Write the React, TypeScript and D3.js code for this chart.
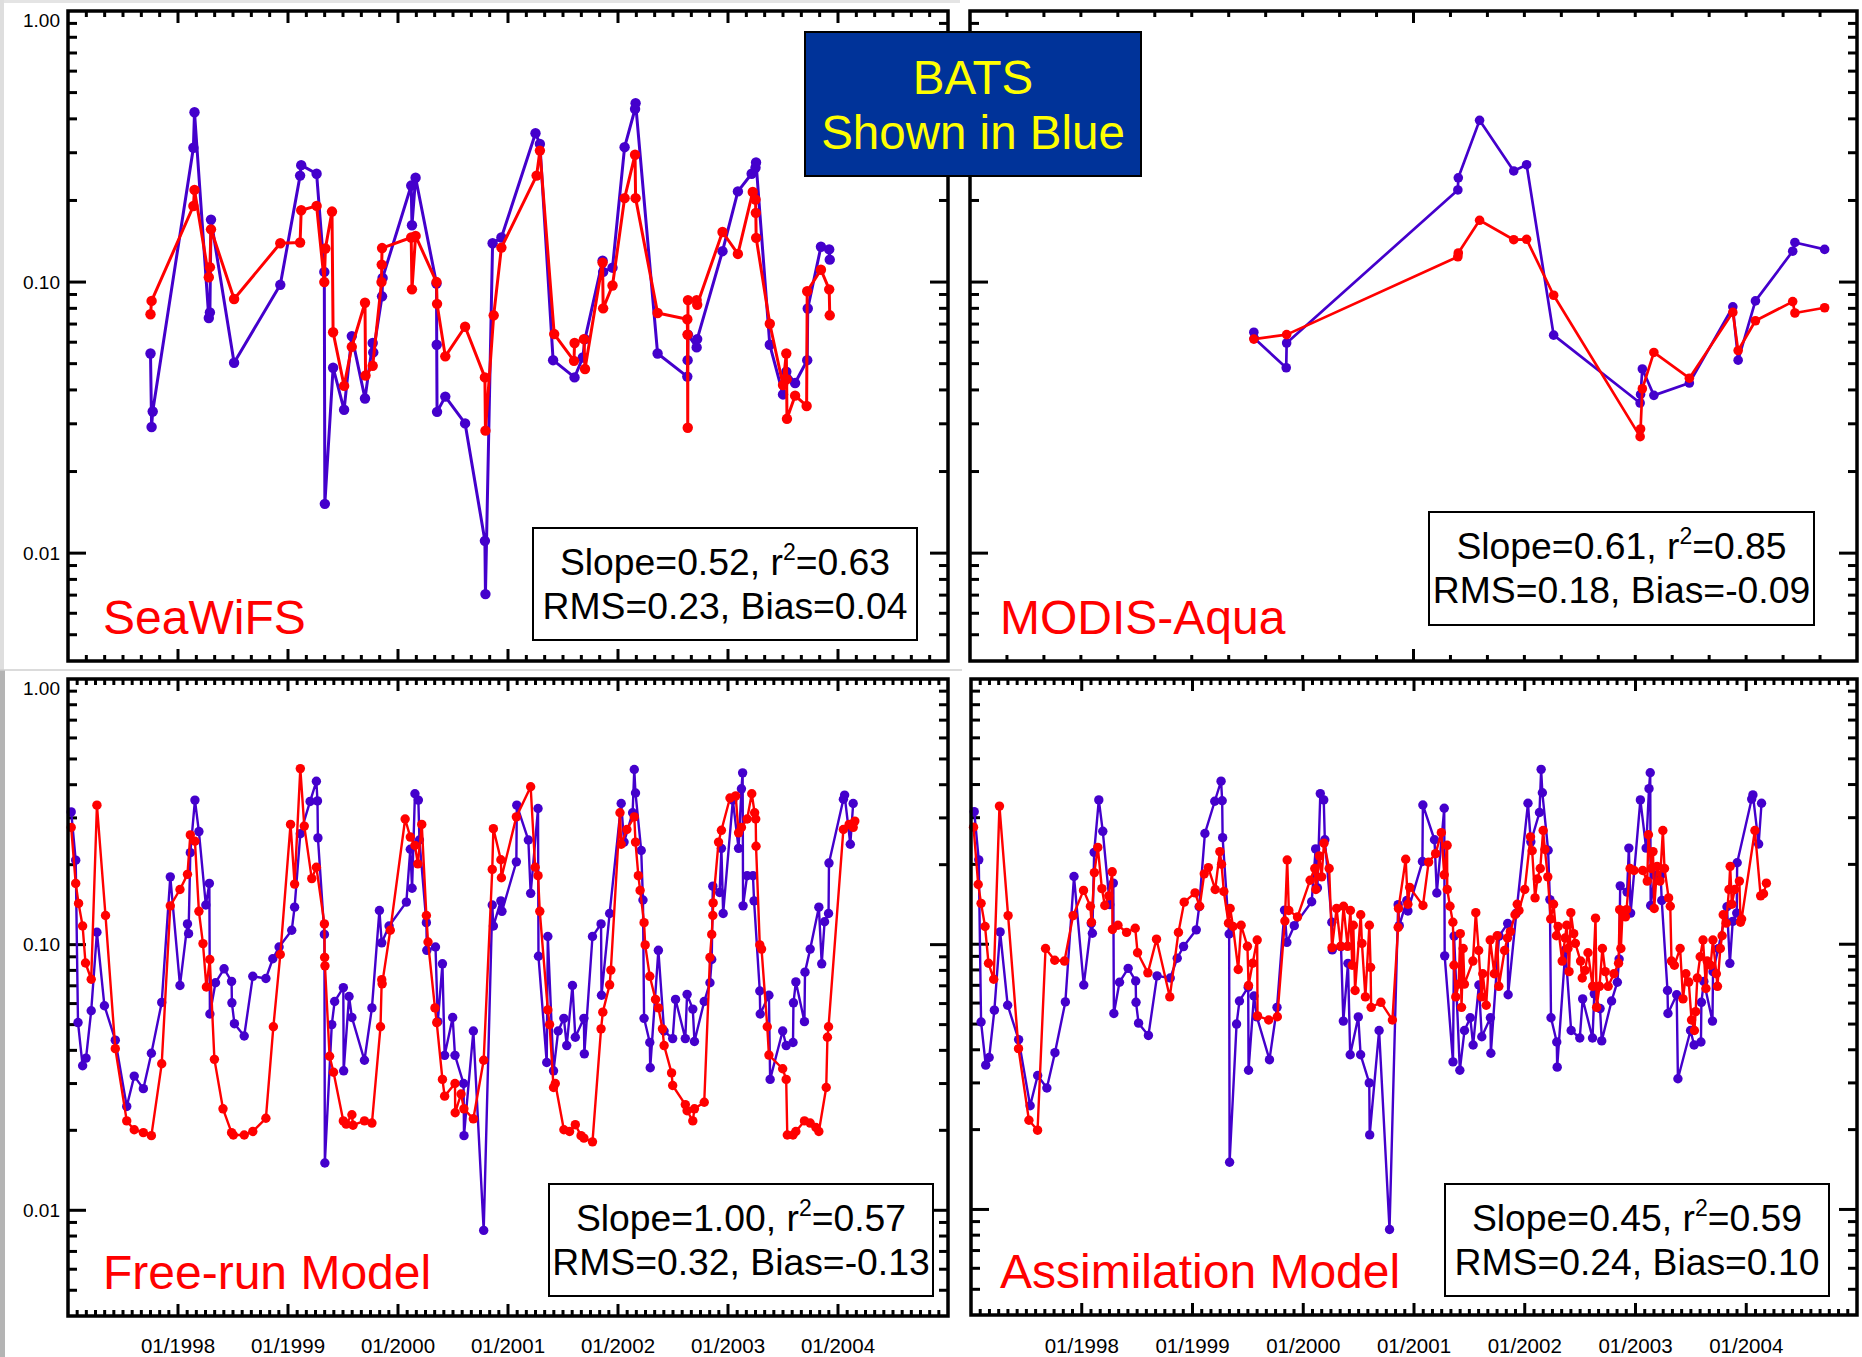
import * as d3 from 'd3'

type Pt = [number, number] // [decimal year, chlorophyll]

const BLUE = '#4400cc'
const RED = '#ff0000'
const FONT = 'Liberation Sans, Arial, Helvetica, sans-serif'

// SeaWiFS matchups: BATS (blue) and satellite (red)
const seawifsBats: Pt[] = [
  [1997.75, 0.0545], [1997.76, 0.0292], [1997.77, 0.0333], [1998.14, 0.313], [1998.15, 0.423],
  [1998.28, 0.0737], [1998.29, 0.0773], [1998.30, 0.170], [1998.51, 0.0504], [1998.93, 0.0977],
  [1999.11, 0.247], [1999.12, 0.270], [1999.26, 0.251], [1999.33, 0.109], [1999.335, 0.0152],
  [1999.41, 0.0483], [1999.51, 0.0338], [1999.58, 0.0632], [1999.70, 0.0372], [1999.77, 0.0596],
  [1999.775, 0.0550], [1999.855, 0.0886], [1999.86, 0.1036], [2000.12, 0.227], [2000.127, 0.162],
  [2000.16, 0.2425], [2000.35, 0.0987], [2000.352, 0.0587], [2000.355, 0.0332], [2000.43, 0.0378],
  [2000.61, 0.0301], [2000.79, 0.0111], [2000.795, 0.00706], [2000.86, 0.139], [2000.94, 0.146],
  [2001.25, 0.354], [2001.29, 0.323], [2001.41, 0.0515], [2001.605, 0.0445], [2001.68, 0.0527],
  [2001.70, 0.0616], [2001.86, 0.120], [2001.865, 0.109], [2001.95, 0.113], [2002.06, 0.3145],
  [2002.155, 0.435], [2002.16, 0.457], [2002.36, 0.0545], [2002.63, 0.0448], [2002.633, 0.0515],
  [2002.636, 0.064], [2002.715, 0.0574], [2002.72, 0.0616], [2002.95, 0.130], [2003.09, 0.216],
  [2003.215, 0.251], [2003.25, 0.264], [2003.255, 0.276], [2003.38, 0.0587], [2003.50, 0.0385],
  [2003.53, 0.0467], [2003.61, 0.0424], [2003.72, 0.0515], [2003.725, 0.0799], [2003.845, 0.135],
  [2003.92, 0.132], [2003.925, 0.121],
]
const seawifsSat: Pt[] = [
  [1997.75, 0.0761], [1997.76, 0.0852], [1998.14, 0.1908], [1998.15, 0.2187], [1998.28, 0.1042],
  [1998.29, 0.1135], [1998.30, 0.1565], [1998.51, 0.0866], [1998.93, 0.139], [1999.11, 0.140],
  [1999.12, 0.184], [1999.26, 0.191], [1999.33, 0.100], [1999.34, 0.133], [1999.40, 0.182],
  [1999.41, 0.0653], [1999.51, 0.0414], [1999.58, 0.0577], [1999.70, 0.0839], [1999.705, 0.0452],
  [1999.77, 0.0491], [1999.85, 0.100], [1999.852, 0.116], [1999.855, 0.1335], [2000.12, 0.146],
  [2000.127, 0.094], [2000.16, 0.148], [2000.35, 0.100], [2000.355, 0.0831], [2000.43, 0.0532],
  [2000.61, 0.0684], [2000.79, 0.0445], [2000.795, 0.0283], [2000.87, 0.0754], [2000.94, 0.134],
  [2001.26, 0.247], [2001.29, 0.3055], [2001.42, 0.0643], [2001.60, 0.0512], [2001.605, 0.0596],
  [2001.69, 0.0616], [2001.70, 0.0478], [2001.86, 0.118], [2001.865, 0.080], [2001.95, 0.0971],
  [2002.06, 0.204], [2002.155, 0.295], [2002.16, 0.204], [2002.36, 0.0769], [2002.63, 0.0729],
  [2002.632, 0.064], [2002.634, 0.029], [2002.636, 0.0858], [2002.715, 0.0858], [2002.72, 0.0825],
  [2002.95, 0.153], [2003.09, 0.127], [2003.225, 0.215], [2003.25, 0.2016], [2003.253, 0.180],
  [2003.256, 0.1456], [2003.38, 0.0702], [2003.50, 0.0417], [2003.53, 0.0545], [2003.533, 0.0438],
  [2003.536, 0.0313], [2003.61, 0.0381], [2003.715, 0.0349], [2003.72, 0.0925], [2003.845, 0.111],
  [2003.92, 0.094], [2003.925, 0.0754],
]

// MODIS-Aqua matchups
const modisBats: Pt[] = [
  [2002.64, 0.0653], [2002.641, 0.062], [2002.713, 0.0483], [2002.714, 0.0596], [2003.10, 0.2187],
  [2003.101, 0.2425], [2003.149, 0.395], [2003.226, 0.257], [2003.255, 0.271], [2003.316, 0.0637],
  [2003.511, 0.0358], [2003.512, 0.0385], [2003.516, 0.0478], [2003.542, 0.0382], [2003.622, 0.0424],
  [2003.720, 0.081], [2003.732, 0.0515], [2003.771, 0.0852], [2003.855, 0.130], [2003.860, 0.140],
  [2003.927, 0.132],
]
const modisSat: Pt[] = [
  [2002.64, 0.0616], [2002.714, 0.064], [2003.10, 0.124], [2003.101, 0.128], [2003.149, 0.169],
  [2003.226, 0.1433], [2003.255, 0.1438], [2003.316, 0.0894], [2003.511, 0.0269], [2003.512, 0.0287],
  [2003.516, 0.0404], [2003.542, 0.055], [2003.622, 0.0442], [2003.720, 0.0773], [2003.732, 0.0559],
  [2003.771, 0.072], [2003.855, 0.0847], [2003.860, 0.0769], [2003.927, 0.0804],
]

// BATS full record (bottom panels)
const batsSeries: Pt[] = [
  [1997.029, 0.316], [1997.070, 0.208], [1997.091, 0.0509], [1997.133, 0.0350], [1997.164, 0.0374],
  [1997.211, 0.0564], [1997.263, 0.1113], [1997.331, 0.0589], [1997.430, 0.0437], [1997.534, 0.0246],
  [1997.602, 0.0320], [1997.685, 0.0287], [1997.758, 0.0390], [1997.852, 0.0606], [1997.930, 0.180],
  [1998.018, 0.0702], [1998.086, 0.1197], [1998.096, 0.110], [1998.112, 0.222], [1998.154, 0.350],
  [1998.190, 0.2665], [1998.253, 0.141], [1998.285, 0.170], [1998.290, 0.0548], [1998.341, 0.0719],
  [1998.419, 0.0811], [1998.487, 0.0727], [1998.490, 0.0604], [1998.513, 0.0504], [1998.602, 0.0453],
  [1998.680, 0.076], [1998.799, 0.0746], [1998.862, 0.0885], [1998.919, 0.098], [1999.034, 0.1133],
  [1999.060, 0.1384], [1999.112, 0.2616], [1999.201, 0.346], [1999.258, 0.412], [1999.268, 0.3475],
  [1999.272, 0.2522], [1999.331, 0.1093], [1999.335, 0.01506], [1999.398, 0.050], [1999.424, 0.0611],
  [1999.503, 0.0689], [1999.506, 0.0335], [1999.555, 0.0638], [1999.581, 0.0532], [1999.695, 0.0367],
  [1999.763, 0.0578], [1999.831, 0.1345], [1999.852, 0.1016], [1999.919, 0.1175], [2000.076, 0.1446],
  [2000.112, 0.2287], [2000.128, 0.1631], [2000.154, 0.3697], [2000.185, 0.350], [2000.195, 0.2477],
  [2000.258, 0.121], [2000.262, 0.0952], [2000.341, 0.098], [2000.362, 0.0513], [2000.404, 0.0847],
  [2000.424, 0.0383], [2000.497, 0.0532], [2000.518, 0.0383], [2000.596, 0.030], [2000.600, 0.0191],
  [2000.685, 0.0473], [2000.779, 0.0084], [2000.857, 0.141], [2000.867, 0.1175], [2000.935, 0.1462],
  [2000.945, 0.1335], [2001.076, 0.205], [2001.080, 0.335], [2001.185, 0.2477], [2001.206, 0.156],
  [2001.273, 0.3255], [2001.277, 0.0904], [2001.352, 0.036], [2001.362, 0.1073], [2001.414, 0.0335],
  [2001.456, 0.0473], [2001.508, 0.0528], [2001.534, 0.0417], [2001.586, 0.0702], [2001.612, 0.0448],
  [2001.690, 0.0528], [2001.694, 0.0388], [2001.768, 0.1073], [2001.846, 0.1197], [2001.850, 0.0645],
  [2001.924, 0.131], [2002.029, 0.340], [2002.055, 0.2432], [2002.133, 0.3138], [2002.148, 0.4565],
  [2002.159, 0.3724], [2002.211, 0.2262], [2002.227, 0.1473], [2002.237, 0.0528], [2002.289, 0.0428],
  [2002.293, 0.0344], [2002.367, 0.0952], [2002.419, 0.0473], [2002.497, 0.0443], [2002.523, 0.0622],
  [2002.612, 0.0443], [2002.628, 0.065], [2002.680, 0.0572], [2002.695, 0.0432], [2002.784, 0.0611],
  [2002.836, 0.0719], [2002.852, 0.0879], [2002.862, 0.166], [2002.924, 0.1572], [2002.940, 0.2304],
  [2002.956, 0.131], [2003.044, 0.350], [2003.096, 0.2304], [2003.122, 0.386], [2003.133, 0.4433],
  [2003.137, 0.140], [2003.174, 0.1818], [2003.227, 0.1818], [2003.237, 0.1462], [2003.289, 0.0669],
  [2003.293, 0.0548], [2003.372, 0.0645], [2003.383, 0.0311], [2003.497, 0.0473], [2003.529, 0.0417],
  [2003.591, 0.0428], [2003.595, 0.0604], [2003.617, 0.0724], [2003.695, 0.0513], [2003.700, 0.0788],
  [2003.747, 0.0962], [2003.826, 0.1384], [2003.852, 0.0847], [2003.878, 0.1219], [2003.914, 0.131],
  [2003.918, 0.2028], [2004.049, 0.3525], [2004.060, 0.3656], [2004.112, 0.2388], [2004.138, 0.340],
]

const freeRun: Pt[] = [
  [1997.029, 0.2763], [1997.070, 0.170], [1997.096, 0.143], [1997.133, 0.1175], [1997.159, 0.0853],
  [1997.211, 0.0741], [1997.263, 0.335], [1997.341, 0.1287], [1997.430, 0.0406], [1997.534, 0.0217],
  [1997.602, 0.0201], [1997.685, 0.0196], [1997.758, 0.0191], [1997.852, 0.0356], [1997.930, 0.140],
  [1998.018, 0.1613], [1998.086, 0.1839], [1998.112, 0.2588], [1998.154, 0.245], [1998.190, 0.1335],
  [1998.227, 0.1009], [1998.258, 0.0693], [1998.289, 0.0879], [1998.331, 0.037], [1998.409, 0.0241],
  [1998.487, 0.0196], [1998.503, 0.0192], [1998.602, 0.0192], [1998.680, 0.0198], [1998.799, 0.0222],
  [1998.867, 0.0491], [1998.930, 0.0918], [1999.023, 0.2835], [1999.060, 0.169], [1999.112, 0.46],
  [1999.148, 0.2794], [1999.216, 0.1773], [1999.258, 0.1956], [1999.331, 0.1197], [1999.333, 0.0895],
  [1999.336, 0.0832], [1999.378, 0.038], [1999.414, 0.0331], [1999.503, 0.0217], [1999.529, 0.0211],
  [1999.581, 0.0229], [1999.591, 0.0209], [1999.695, 0.0217], [1999.763, 0.0213], [1999.841, 0.0491],
  [1999.852, 0.0738], [1999.856, 0.0712], [1999.930, 0.1133], [2000.065, 0.2972], [2000.112, 0.2541],
  [2000.154, 0.2363], [2000.180, 0.2014], [2000.216, 0.2835], [2000.258, 0.1287], [2000.273, 0.1023],
  [2000.336, 0.0578], [2000.352, 0.0509], [2000.404, 0.0311], [2000.424, 0.0269], [2000.518, 0.030],
  [2000.520, 0.0233], [2000.573, 0.0274], [2000.599, 0.0241], [2000.685, 0.0221], [2000.779, 0.0367],
  [2000.857, 0.192], [2000.867, 0.2733], [2000.935, 0.2088], [2000.940, 0.1786], [2001.076, 0.3027],
  [2001.206, 0.393], [2001.247, 0.1956], [2001.273, 0.1818], [2001.289, 0.1335], [2001.362, 0.0568],
  [2001.378, 0.050], [2001.414, 0.029], [2001.430, 0.030], [2001.508, 0.0201], [2001.560, 0.0198],
  [2001.612, 0.021], [2001.664, 0.0191], [2001.690, 0.0187], [2001.768, 0.0181], [2001.846, 0.0482],
  [2001.862, 0.0557], [2001.924, 0.0706], [2001.935, 0.0802], [2002.018, 0.3138], [2002.029, 0.2388],
  [2002.081, 0.2714], [2002.148, 0.3027], [2002.159, 0.2432], [2002.185, 0.1818], [2002.201, 0.160],
  [2002.237, 0.121], [2002.247, 0.0998], [2002.289, 0.076], [2002.341, 0.0622], [2002.367, 0.0578],
  [2002.404, 0.0482], [2002.419, 0.0417], [2002.487, 0.0329], [2002.497, 0.0295], [2002.612, 0.025],
  [2002.628, 0.0237], [2002.680, 0.0217], [2002.695, 0.0241], [2002.784, 0.0255], [2002.836, 0.0895],
  [2002.852, 0.1093], [2002.862, 0.1287], [2002.865, 0.1436], [2002.914, 0.2432], [2002.940, 0.2694],
  [2003.018, 0.3565], [2003.070, 0.363], [2003.096, 0.2636], [2003.122, 0.2763], [2003.174, 0.2972],
  [2003.216, 0.3697], [2003.242, 0.3138], [2003.252, 0.2972], [2003.255, 0.2346], [2003.289, 0.0998],
  [2003.305, 0.0962], [2003.357, 0.0491], [2003.372, 0.0384], [2003.497, 0.0341], [2003.529, 0.0311],
  [2003.539, 0.0192], [2003.591, 0.0192], [2003.617, 0.0198], [2003.695, 0.0217], [2003.747, 0.0213],
  [2003.799, 0.0205], [2003.826, 0.0198], [2003.893, 0.029], [2003.904, 0.0448], [2003.914, 0.0491],
  [2004.049, 0.2714], [2004.101, 0.2835], [2004.138, 0.2763], [2004.153, 0.2918],
]

const assimilation: Pt[] = [
  [1997.023, 0.2763], [1997.065, 0.168], [1997.091, 0.1426], [1997.127, 0.1166], [1997.158, 0.0848],
  [1997.205, 0.0738], [1997.257, 0.3317], [1997.335, 0.1282], [1997.429, 0.0404], [1997.523, 0.0217],
  [1997.601, 0.0199], [1997.673, 0.0964], [1997.756, 0.0870], [1997.844, 0.0864], [1997.922, 0.1282],
  [1998.016, 0.1596], [1998.078, 0.139], [1998.088, 0.121], [1998.114, 0.1862], [1998.145, 0.2318],
  [1998.182, 0.162], [1998.208, 0.140], [1998.244, 0.1522], [1998.275, 0.1875], [1998.277, 0.1137],
  [1998.327, 0.1179], [1998.405, 0.1108], [1998.483, 0.1149], [1998.504, 0.0929], [1998.597, 0.078],
  [1998.675, 0.1045], [1998.795, 0.0633], [1998.873, 0.1108], [1998.925, 0.1441], [1999.023, 0.1562],
  [1999.065, 0.139], [1999.106, 0.1842], [1999.143, 0.1945], [1999.205, 0.1608], [1999.247, 0.2235],
  [1999.262, 0.2002], [1999.283, 0.158], [1999.325, 0.1201], [1999.340, 0.1364], [1999.366, 0.1166],
  [1999.413, 0.0803], [1999.439, 0.1179], [1999.496, 0.0982], [1999.506, 0.0699], [1999.543, 0.0848],
  [1999.584, 0.1037], [1999.587, 0.0537], [1999.688, 0.0518], [1999.766, 0.0533], [1999.834, 0.1223],
  [1999.855, 0.2077], [1999.870, 0.134], [1999.948, 0.1268], [2000.062, 0.1743], [2000.104, 0.193],
  [2000.114, 0.1608], [2000.145, 0.2154], [2000.166, 0.1795], [2000.187, 0.2404], [2000.234, 0.193],
  [2000.260, 0.0971], [2000.301, 0.1364], [2000.338, 0.0982], [2000.364, 0.139], [2000.400, 0.0982],
  [2000.426, 0.134], [2000.442, 0.0833], [2000.452, 0.1179], [2000.468, 0.0669], [2000.519, 0.1292],
  [2000.530, 0.1007], [2000.561, 0.0633], [2000.597, 0.1179], [2000.608, 0.0818], [2000.613, 0.0578],
  [2000.701, 0.0604], [2000.805, 0.0518], [2000.857, 0.1158], [2000.860, 0.1364], [2000.925, 0.2092],
  [2000.945, 0.1415], [2000.961, 0.1638], [2001.081, 0.140], [2001.132, 0.204], [2001.195, 0.2195],
  [2001.247, 0.2634], [2001.273, 0.1827], [2001.299, 0.236], [2001.300, 0.1608], [2001.325, 0.139],
  [2001.351, 0.121], [2001.361, 0.0833], [2001.377, 0.0633], [2001.403, 0.0707], [2001.418, 0.1096],
  [2001.429, 0.0578], [2001.444, 0.0964], [2001.455, 0.0707], [2001.532, 0.0864], [2001.558, 0.1315],
  [2001.584, 0.0947], [2001.610, 0.0633], [2001.621, 0.0774], [2001.652, 0.0589], [2001.688, 0.1037],
  [2001.725, 0.0774], [2001.751, 0.1076], [2001.766, 0.0694], [2001.818, 0.0947], [2001.844, 0.1056],
  [2001.870, 0.1116], [2001.912, 0.1292], [2001.932, 0.1415], [2001.948, 0.134], [2002.000, 0.1608],
  [2002.052, 0.254], [2002.067, 0.2251], [2002.093, 0.1495], [2002.114, 0.1762], [2002.140, 0.193],
  [2002.166, 0.2683], [2002.182, 0.2276], [2002.208, 0.1795], [2002.234, 0.1245], [2002.260, 0.1415],
  [2002.286, 0.1076], [2002.301, 0.1166], [2002.338, 0.0864], [2002.364, 0.1056], [2002.379, 0.1179],
  [2002.390, 0.0964], [2002.400, 0.0788], [2002.416, 0.1315], [2002.442, 0.1096], [2002.457, 0.1007],
  [2002.504, 0.0864], [2002.519, 0.0746], [2002.545, 0.0797], [2002.571, 0.0929], [2002.613, 0.0694],
  [2002.639, 0.1254], [2002.649, 0.0578], [2002.675, 0.0694], [2002.701, 0.0964], [2002.727, 0.0788],
  [2002.753, 0.0694], [2002.805, 0.0774], [2002.847, 0.0848], [2002.857, 0.135], [2002.868, 0.0964],
  [2002.883, 0.1315], [2002.909, 0.1268], [2002.919, 0.135], [2002.951, 0.193], [2002.987, 0.1896],
  [2003.065, 0.1896], [2003.106, 0.173], [2003.117, 0.2586], [2003.143, 0.193], [2003.158, 0.2235],
  [2003.169, 0.1364], [2003.195, 0.1966], [2003.221, 0.173], [2003.247, 0.2683], [2003.262, 0.193],
  [2003.299, 0.1495], [2003.314, 0.139], [2003.325, 0.0864], [2003.351, 0.0833], [2003.403, 0.0964],
  [2003.429, 0.0622], [2003.455, 0.0774], [2003.481, 0.072], [2003.506, 0.0518], [2003.532, 0.0473],
  [2003.543, 0.0557], [2003.558, 0.0746], [2003.584, 0.0897], [2003.610, 0.1037], [2003.636, 0.0681],
  [2003.647, 0.0864], [2003.678, 0.0833], [2003.699, 0.1037], [2003.730, 0.0774], [2003.740, 0.0694],
  [2003.766, 0.0964], [2003.782, 0.1076], [2003.792, 0.1292], [2003.818, 0.1201], [2003.844, 0.1608],
  [2003.855, 0.1966], [2003.870, 0.1415], [2003.896, 0.1608], [2003.938, 0.173], [2003.948, 0.121],
  [2003.958, 0.1245], [2004.078, 0.2683], [2004.130, 0.1522], [2004.156, 0.155], [2004.182, 0.1699],
]

const YEAR_LABELS = ['01/1998', '01/1999', '01/2000', '01/2001', '01/2002', '01/2003', '01/2004']
const Y_LABELS = [1, 0.1, 0.01]

const STATS = [
  { slope: '0.52', r2: '0.63', rms: '0.23', bias: '0.04' },
  { slope: '0.61', r2: '0.85', rms: '0.18', bias: '-0.09' },
  { slope: '1.00', r2: '0.57', rms: '0.32', bias: '-0.13' },
  { slope: '0.45', r2: '0.59', rms: '0.24', bias: '0.10' },
]

type PanelProps = {
  x0: number; x1: number; y0: number; y1: number
  domain: [number, number]
  minorPerYear: number
  blue: Pt[]; red: Pt[]
  r: number; lw: number
  label: string
  labelDx: number
  stats: { slope: string; r2: string; rms: string; bias: string }
  statBox: [number, number, number, number]
  yLabels: boolean
  xLabels: boolean
}

function Panel(p: PanelProps) {
  const x = d3.scaleLinear().domain(p.domain).range([p.x0, p.x1])
  const y = d3.scaleLog().domain([0.004, 1]).range([p.y1, p.y0])
  const line = d3.line<Pt>().x(d => x(d[0])).y(d => y(d[1]))

  // x ticks
  const xMajor: number[] = []
  const xMinor: number[] = []
  for (let yr = p.domain[0]; yr < p.domain[1]; yr++) {
    if (yr > p.domain[0]) xMajor.push(yr)
    for (let k = 1; k < p.minorPerYear; k++) xMinor.push(yr + k / p.minorPerYear)
  }
  // y ticks
  const yMajor = [0.01, 0.1]
  const yMinor: number[] = []
  ;[0.001, 0.01, 0.1].forEach(dec => {
    for (let k = 2; k <= 9; k++) {
      const v = k * dec
      if (v > 0.004 && v < 1) yMinor.push(v)
    }
  })

  const [bx0, by0, bx1, by1] = p.statBox
  const cx = (bx0 + bx1) / 2

  return (
    <g>
      {/* tick marks */}
      <g stroke="#000" strokeWidth={3}>
        {xMajor.map(t => (
          <g key={'xM' + t}>
            <line x1={x(t)} x2={x(t)} y1={p.y1} y2={p.y1 - 12} />
            <line x1={x(t)} x2={x(t)} y1={p.y0} y2={p.y0 + 12} />
          </g>
        ))}
        {xMinor.map(t => (
          <g key={'xm' + t}>
            <line x1={x(t)} x2={x(t)} y1={p.y1} y2={p.y1 - 6} />
            <line x1={x(t)} x2={x(t)} y1={p.y0} y2={p.y0 + 6} />
          </g>
        ))}
        {yMajor.map(v => (
          <g key={'yM' + v}>
            <line x1={p.x0} x2={p.x0 + 18} y1={y(v)} y2={y(v)} />
            <line x1={p.x1} x2={p.x1 - 18} y1={y(v)} y2={y(v)} />
          </g>
        ))}
        {yMinor.map(v => (
          <g key={'ym' + v}>
            <line x1={p.x0} x2={p.x0 + 9} y1={y(v)} y2={y(v)} />
            <line x1={p.x1} x2={p.x1 - 9} y1={y(v)} y2={y(v)} />
          </g>
        ))}
      </g>

      {/* series: BATS first, model / satellite on top */}
      <path d={line(p.blue) ?? ''} fill="none" stroke={BLUE} strokeWidth={p.lw} strokeLinejoin="round" />
      {p.blue.map((d, i) => (
        <circle key={'b' + i} cx={x(d[0])} cy={y(d[1])} r={p.r} fill={BLUE} />
      ))}
      <path d={line(p.red) ?? ''} fill="none" stroke={RED} strokeWidth={p.lw} strokeLinejoin="round" />
      {p.red.map((d, i) => (
        <circle key={'r' + i} cx={x(d[0])} cy={y(d[1])} r={p.r} fill={RED} />
      ))}

      {/* frame */}
      <rect x={p.x0} y={p.y0} width={p.x1 - p.x0} height={p.y1 - p.y0} fill="none" stroke="#000" strokeWidth={3.5} />

      {p.yLabels && Y_LABELS.map(v => (
        <text key={'yl' + v} x={60} y={y(v) + (v === 1 ? 15.5 : 6.5)} textAnchor="end"
          fontSize={19} fontFamily={FONT} fill="#000">
          {d3.format('.2f')(v)}
        </text>
      ))}
      {p.xLabels && YEAR_LABELS.map((lab, i) => (
        <text key={lab} x={x(1998 + i)} y={1353} textAnchor="middle" fontSize={20.5} fontFamily={FONT} fill="#000">
          {lab}
        </text>
      ))}

      {/* panel label */}
      <text x={p.x0 + p.labelDx} y={p.y1 - 27} fontSize={48} fontFamily={FONT} fill={RED}>{p.label}</text>

      {/* stats box */}
      <rect x={bx0} y={by0} width={bx1 - bx0} height={by1 - by0} fill="#fff" stroke="#000" strokeWidth={2} />
      <text x={cx} y={by0 + 47} textAnchor="middle" fontSize={37.3} fontFamily={FONT} fill="#000">
        {`Slope=${p.stats.slope}, r`}
        <tspan fontSize={23} dy={-15}>2</tspan>
        <tspan dy={15}>{`=${p.stats.r2}`}</tspan>
      </text>
      <text x={cx} y={by0 + 91} textAnchor="middle" fontSize={37.3} fontFamily={FONT} fill="#000">
        {`RMS=${p.stats.rms}, Bias=${p.stats.bias}`}
      </text>
    </g>
  )
}

export default function App() {
  return (
    <svg width={1862} height={1357} style={{ position: 'absolute', left: 0, top: 0, background: '#fff' }}>
      <rect x={0} y={0} width={1862} height={1357} fill="#fff" />
      <rect x={0} y={0} width={960} height={3} fill="#e4e4e4" />
      <rect x={0} y={0} width={4} height={670} fill="#dedede" />
      <rect x={0} y={670} width={5} height={687} fill="#b4b4b4" />
      <line x1={0} x2={962} y1={670} y2={670} stroke="#cfcfcf" strokeWidth={1.5} />

      <Panel x0={68} x1={948} y0={11} y1={661} domain={[1997, 2005]} minorPerYear={6}
        blue={seawifsBats} red={seawifsSat} r={5.2} lw={3} label="SeaWiFS" labelDx={35} stats={STATS[0]}
        statBox={[533, 528, 917, 640]} yLabels xLabels={false} />
      <Panel x0={970} x1={1857} y0={11} y1={661} domain={[2002, 2004]} minorPerYear={12}
        blue={modisBats} red={modisSat} r={4.8} lw={2.7} label="MODIS-Aqua" labelDx={30} stats={STATS[1]}
        statBox={[1429, 512, 1814, 625]} yLabels={false} xLabels={false} />
      <Panel x0={68} x1={948} y0={679} y1={1316} domain={[1997, 2005]} minorPerYear={12}
        blue={batsSeries} red={freeRun} r={4.7} lw={2.4} label="Free-run Model" labelDx={35} stats={STATS[2]}
        statBox={[549, 1184, 933, 1296]} yLabels xLabels />
      <Panel x0={971} x1={1857} y0={679} y1={1315} domain={[1997, 2005]} minorPerYear={12}
        blue={batsSeries} red={assimilation} r={4.7} lw={2.4} label="Assimilation Model" labelDx={29} stats={STATS[3]}
        statBox={[1445, 1184, 1829, 1296]} yLabels={false} xLabels />

      {/* title box */}
      <rect x={805} y={32} width={336} height={144} fill="#003399" stroke="#000" strokeWidth={2} />
      <text x={973} y={94} textAnchor="middle" fontSize={47.5} fontFamily={FONT} fill="#ffff00">BATS</text>
      <text x={973} y={149} textAnchor="middle" fontSize={47.5} fontFamily={FONT} fill="#ffff00">Shown in Blue</text>
    </svg>
  )
}
